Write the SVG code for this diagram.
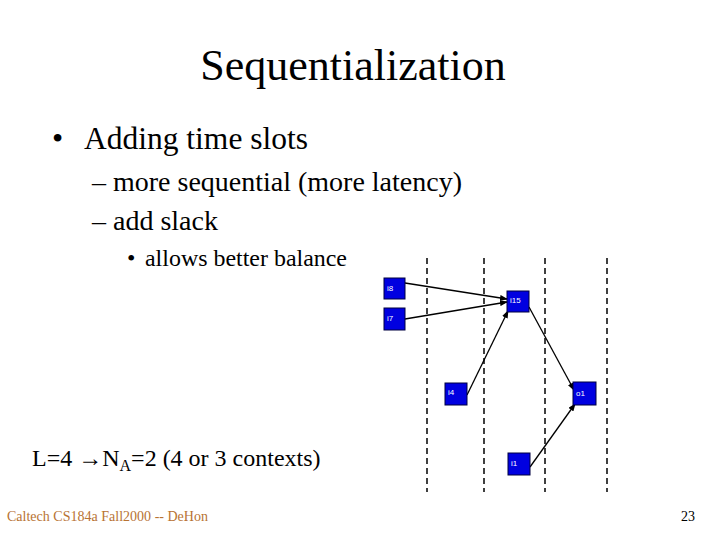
<svg xmlns="http://www.w3.org/2000/svg" width="720" height="540" viewBox="0 0 720 540">
<style>
.t{font-family:"Liberation Serif","Times New Roman",serif;fill:#000}
.n rect{fill:#0000e0;stroke:#000040;stroke-width:1}
.n text{font-family:"Liberation Sans",Arial,sans-serif;font-size:8px;fill:#fff}
.d{stroke:#000;stroke-width:1.5;stroke-dasharray:6,4}
.e{stroke:#000;stroke-width:1.3;fill:none;marker-end:url(#a)}
</style>
<defs>
<marker id="a" markerWidth="8" markerHeight="6" refX="7" refY="3" orient="auto" markerUnits="userSpaceOnUse">
<path d="M0,0 L8,3 L0,6 z" fill="#000"/>
</marker>
</defs>
<rect width="720" height="540" fill="#fff"/>
<text class="t" x="353" y="80" font-size="44" text-anchor="middle">Sequentialization</text>
<text class="t" x="52" y="149" font-size="32">•</text>
<text class="t" x="84" y="149" font-size="32" textLength="224" lengthAdjust="spacingAndGlyphs">Adding time slots</text>
<text class="t" x="92" y="191" font-size="28" textLength="370" lengthAdjust="spacingAndGlyphs">– more sequential (more latency)</text>
<text class="t" x="92" y="230" font-size="28">– add slack</text>
<text class="t" x="127" y="266" font-size="24">•</text>
<text class="t" x="145" y="266" font-size="24" textLength="202" lengthAdjust="spacingAndGlyphs">allows better balance</text>
<text class="t" x="32" y="466" font-size="24">L=4 →N<tspan font-size="16" dy="5">A</tspan><tspan dy="-5">=2 (4 or 3 contexts)</tspan></text>
<text x="7" y="521" font-size="14" font-family="Liberation Serif,serif" fill="#b87333" textLength="201" lengthAdjust="spacingAndGlyphs">Caltech CS184a Fall2000 -- DeHon</text>
<text class="t" x="695" y="521" font-size="14" text-anchor="end">23</text>
<g id="slots">
<line class="d" x1="427" y1="258" x2="427" y2="492"/>
<line class="d" x1="484" y1="258" x2="484" y2="492"/>
<line class="d" x1="545" y1="258" x2="545" y2="492"/>
<line class="d" x1="607" y1="258" x2="607" y2="492" stroke-width="2"/>
</g>
<g id="connectors">
<line class="e" x1="405" y1="283" x2="507" y2="299"/>
<line class="e" x1="405" y1="319" x2="507" y2="302"/>
<line class="e" x1="467" y1="395" x2="508" y2="311"/>
<line class="e" x1="529" y1="307" x2="574" y2="390"/>
<line class="e" x1="530" y1="467" x2="575" y2="404"/>
</g>
<g id="i8" class="n"><rect x="384" y="278" width="21" height="21"/><text x="387" y="291">i8</text></g>
<g id="i7" class="n"><rect x="384" y="308" width="21" height="22"/><text x="387" y="321">i7</text></g>
<g id="i15" class="n"><rect x="507" y="291" width="22" height="21"/><text x="510" y="303">i15</text></g>
<g id="i4" class="n"><rect x="445" y="383" width="22" height="22"/><text x="448" y="395">i4</text></g>
<g id="o1" class="n"><rect x="573" y="382" width="23" height="23"/><text x="576" y="396">o1</text></g>
<g id="i1" class="n"><rect x="508" y="453" width="22" height="22"/><text x="511" y="466">i1</text></g>
</svg>
